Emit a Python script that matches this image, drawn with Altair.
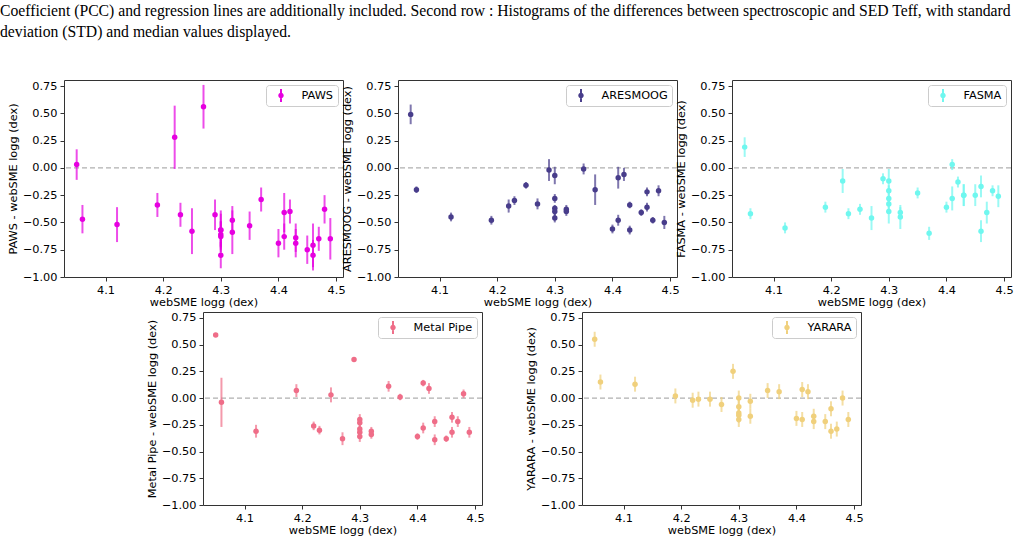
import altair as alt
import pandas as pd

# webSME surface gravity of each star (shared by every panel)
LOGG = [4.05, 4.06, 4.12, 4.19, 4.22, 4.23, 4.25, 4.27, 4.29,
        4.30, 4.30, 4.30, 4.30, 4.30, 4.32, 4.32, 4.35, 4.37, 4.40,
        4.41, 4.41, 4.42, 4.43, 4.43, 4.45, 4.46, 4.46, 4.47, 4.48, 4.49]

# pipeline minus webSME logg, with 1-sigma uncertainties
PAWS_D = [0.03, -0.47, -0.52, -0.34, 0.28, -0.43, -0.58, 0.56, -0.43,
          -0.57, -0.57, -0.61, -0.63, -0.80, -0.48, -0.59, -0.53, -0.29, -0.69,
          -0.41, -0.63, -0.40, -0.64, -0.69, -0.75, -0.71, -0.80, -0.65, -0.38, -0.65]
PAWS_E = [0.14, 0.13, 0.16, 0.11, 0.29, 0.11, 0.21, 0.20, 0.14,
          0.18, 0.15, 0.12, 0.14, 0.12, 0.13, 0.20, 0.13, 0.11, 0.13,
          0.18, 0.12, 0.11, 0.13, 0.13, 0.13, 0.20, 0.14, 0.11, 0.13, 0.19]

ARES_D = [0.49, -0.20, -0.45, -0.48, -0.35, -0.30, -0.16, -0.33, -0.02,
          -0.07, -0.28, -0.37, -0.40, -0.46, -0.38, -0.40, -0.01, -0.20, -0.56,
          -0.09, -0.48, -0.06, -0.34, -0.57, -0.41, -0.22, -0.36, -0.48, -0.21, -0.50]
ARES_E = [0.09, 0.03, 0.04, 0.04, 0.06, 0.04, 0.03, 0.05, 0.10,
          0.08, 0.04, 0.03, 0.04, 0.04, 0.04, 0.04, 0.05, 0.14, 0.04,
          0.10, 0.05, 0.06, 0.03, 0.04, 0.03, 0.04, 0.04, 0.03, 0.05, 0.06]

FASMA_D = [0.19, -0.42, -0.55, -0.36, -0.12, -0.42, -0.38, -0.46, -0.10,
           -0.12, -0.21, -0.28, -0.33, -0.40, -0.41, -0.45, -0.23, -0.60, -0.36,
           0.03, -0.28, -0.13, -0.25, -0.25, -0.25, -0.17, -0.58, -0.41, -0.21, -0.26]
FASMA_E = [0.09, 0.05, 0.05, 0.05, 0.11, 0.05, 0.05, 0.11, 0.05,
           0.11, 0.05, 0.05, 0.05, 0.11, 0.05, 0.11, 0.05, 0.06, 0.05,
           0.05, 0.11, 0.05, 0.10, 0.10, 0.10, 0.10, 0.10, 0.10, 0.05, 0.10]

METAL_D = [0.59, -0.04, -0.31, 0.07, -0.26, -0.30, 0.03, -0.38, 0.36,
           -0.20, -0.23, -0.29, -0.32, -0.36, -0.31, -0.34, 0.11, 0.01, -0.36,
           0.14, -0.28, 0.09, -0.22, -0.39, -0.38, -0.18, -0.32, -0.22, 0.04, -0.32]
METAL_E = [0.01, 0.23, 0.06, 0.06, 0.04, 0.04, 0.07, 0.06, 0.01,
           0.05, 0.05, 0.05, 0.05, 0.05, 0.04, 0.04, 0.05, 0.03, 0.03,
           0.03, 0.05, 0.05, 0.05, 0.05, 0.03, 0.05, 0.05, 0.05, 0.04, 0.05]

YARARA_D = [0.55, 0.15, 0.13, 0.02, -0.02, -0.01, -0.01, -0.06, 0.25,
            0.00, -0.08, -0.14, -0.16, -0.20, -0.03, -0.17, 0.07, 0.06, -0.19,
            0.08, -0.20, 0.06, -0.17, -0.22, -0.22, -0.10, -0.31, -0.29, 0.00, -0.20]
YARARA_E = [0.07] * 30

X_TICKS = [4.1, 4.2, 4.3, 4.4, 4.5]
Y_TICKS = [0.75, 0.5, 0.25, 0.0, -0.25, -0.5, -0.75, -1.0]

CAPTION = [
    "Coefficient (PCC) and regression lines are additionally included. Second row : Histograms of the differences "
    "between spectroscopic and SED Teff, with standard",
    "deviation (STD) and median values displayed.",
]

FONT = "DejaVu Sans"
FS = 11.3
# marker with a vertical error bar, in unit coordinates
ERR_SYMBOL = ("M-0.42,0A0.42,0.42 0 1,1 0.42,0A0.42,0.42 0 1,1 -0.42,0Z "
              "M-0.15,-1L0.15,-1L0.15,1L-0.15,1Z")


def panel(name, diff, err, color, height):
    df = pd.DataFrame({
        "logg": LOGG,
        "diff": diff,
        "lo": [d - e for d, e in zip(diff, err)],
        "hi": [d + e for d, e in zip(diff, err)],
        "series": name,
    })
    xs = alt.Scale(domain=[4.028, 4.512], nice=False, zero=False)
    ys = alt.Scale(domain=[-1.0, 0.805], nice=False, zero=False)
    xax = alt.Axis(values=X_TICKS, format=".1f", title="webSME logg (dex)")
    yax = alt.Axis(values=Y_TICKS, format=".2f", title=f"{name} - webSME logg (dex)")
    col = alt.Color(
        "series:N",
        scale=alt.Scale(domain=[name], range=[color]),
        legend=alt.Legend(
            title=None, orient="top-right", offset=5, padding=4,
            fillColor="white", strokeColor="#cccccc", cornerRadius=3,
            labelFont=FONT, labelFontSize=FS, labelColor="black",
            symbolType=ERR_SYMBOL, symbolSize=169, symbolFillColor=color,
            symbolStrokeWidth=0, symbolOpacity=1, symbolOffset=4.5, labelOffset=14,
        ),
    )
    base = alt.Chart(df)
    zero = alt.Chart(pd.DataFrame({"z": [0.0]})).mark_rule(
        color="#b0b0b0", strokeDash=[5, 3], strokeWidth=1.3
    ).encode(y=alt.Y("z:Q", scale=ys, axis=yax))
    bars = base.mark_rule(strokeWidth=2, opacity=0.7).encode(
        x=alt.X("logg:Q", scale=xs, axis=xax),
        y=alt.Y("lo:Q", scale=ys, axis=yax),
        y2="hi:Q",
        color=col,
    )
    pts = base.mark_point(filled=True, size=30, opacity=1).encode(
        x=alt.X("logg:Q", scale=xs, axis=xax),
        y=alt.Y("diff:Q", scale=ys, axis=yax),
        color=col,
    )
    return alt.layer(zero, bars, pts).properties(width=279, height=height)


# empty cell that pushes the second row to the right
spacer = alt.Chart(pd.DataFrame({"v": [0]})).mark_point(opacity=0).encode(
    x=alt.X("v:Q", axis=None), y=alt.Y("v:Q", axis=None)
).properties(width=39, height=193, view=alt.ViewBackground(stroke=None))

top = alt.hconcat(
    panel("PAWS", PAWS_D, PAWS_E, "#e600e0", 197),
    panel("ARESMOOG", ARES_D, ARES_E, "#483d8b", 197),
    panel("FASMA", FASMA_D, FASMA_E, "#6ff7ef", 197),
    spacing=55, bounds="flush",
).resolve_scale(x="independent", y="independent", color="independent")

bottom = alt.hconcat(
    spacer,
    panel("Metal Pipe", METAL_D, METAL_E, "#ef6d88", 193),
    panel("YARARA", YARARA_D, YARARA_E, "#f0d07c", 193),
    spacing=100, bounds="flush",
).resolve_scale(x="independent", y="independent", color="independent")

chart = alt.vconcat(top, bottom, spacing=2).resolve_scale(
    x="independent", y="independent", color="independent"
).properties(
    title=alt.Title(
        text=CAPTION, anchor="start", frame="group", dx=-64, offset=39,
        font="Liberation Serif", fontSize=15.7, fontWeight="normal",
        color="black", lineHeight=21,
    ),
    padding={"left": 0, "top": 2, "right": 0, "bottom": 0},
    background="white",
).configure_view(
    stroke="#333333", strokeWidth=1
).configure_axis(
    domain=False, grid=False, ticks=True, tickColor="#333333", tickSize=4,
    labelFont=FONT, labelFontSize=FS, labelColor="black", labelPadding=3,
    titleFont=FONT, titleFontSize=FS, titleFontWeight="normal", titleColor="black",
).configure_axisY(titlePadding=4).configure_axisX(titlePadding=1)

chart.save("out.html", embed_options={"renderer": "svg", "actions": False})
